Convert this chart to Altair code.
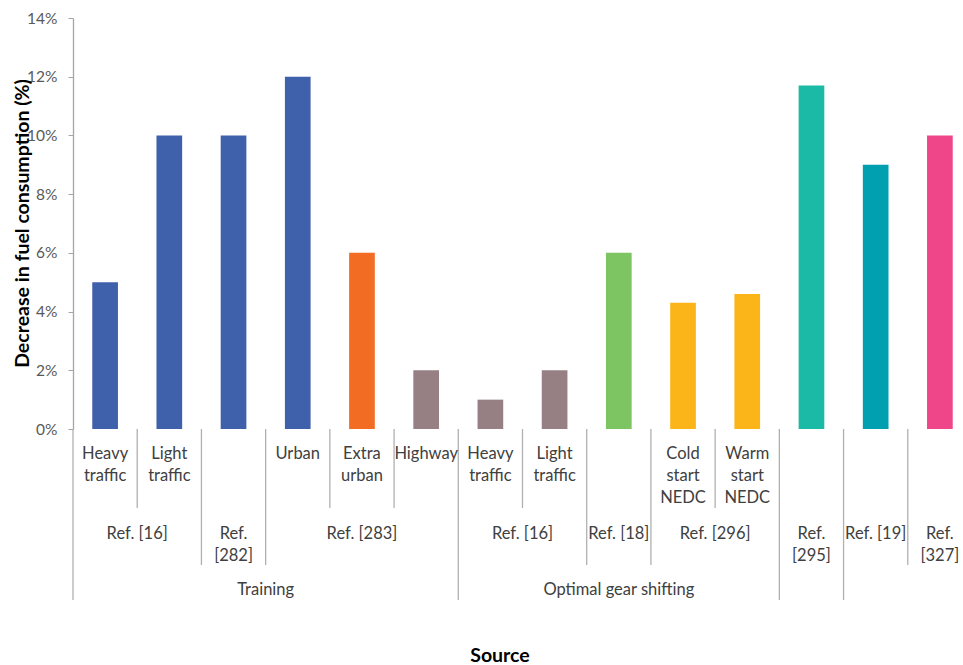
import altair as alt
import pandas as pd

# ---- data ----
values = [0.05, 0.10, 0.10, 0.12, 0.06, 0.02, 0.01, 0.02, 0.06, 0.043, 0.046, 0.117, 0.09, 0.10]
level1_labels = ["Heavy\ntraffic", "Light\ntraffic", "", "Urban", "Extra\nurban", "Highway",
                 "Heavy\ntraffic", "Light\ntraffic", "", "Cold\nstart\nNEDC", "Warm\nstart\nNEDC",
                 "", "", ""]
ref_labels = ["Ref. [16]", "Ref.\n[282]", "Ref. [283]", "Ref. [16]", "Ref. [18]", "Ref. [296]",
              "Ref.\n[295]", "Ref. [19]", "Ref.\n[327]"]
ref_spans = [2, 1, 3, 2, 1, 2, 1, 1, 1]
strategy_labels = ["Training", "Optimal gear shifting", "", ""]
strategy_spans = [6, 5, 1, 2]
y_ticks = [0, 0.02, 0.04, 0.06, 0.08, 0.10, 0.12, 0.14]
x_title = "Source"
y_title = "Decrease in fuel consumption (%)"

# style
palette = ["#3F60AA", "#3F60AA", "#3F60AA", "#3F60AA", "#F36C23", "#968083", "#968083",
           "#968083", "#7DC462", "#FCB518", "#FCB518", "#1ABAA6", "#00A0B1", "#EE4689"]
FONT = "Lato"
n = len(values)
xmax = 13.86

bars_df = pd.DataFrame({"idx": list(range(n)), "value": values, "color": palette})
l1_df = pd.DataFrame({"c": [i + 0.5 for i in range(n)], "label": level1_labels})


def groups(labels, spans):
    rows, start = [], 0
    for lab, sp in zip(labels, spans):
        rows.append({"c": start + sp / 2, "label": lab, "start": start})
        start += sp
    return rows


l2_rows = groups(ref_labels, ref_spans)
l3_rows = groups(strategy_labels, strategy_spans)
l2_df = pd.DataFrame(l2_rows)
l3_df = pd.DataFrame([r for r in l3_rows if r["label"] != ""])

l2_starts = {r["start"] for r in l2_rows}
l3_starts = {r["start"] for r in l3_rows}
sep_rows = []
for b in range(n):
    if b in l3_starts:
        lvl = 3
    elif b in l2_starts:
        lvl = 2
    else:
        lvl = 1
    sep_rows.append({"pos": b, "lvl": lvl})
sep_df = pd.DataFrame(sep_rows)
sep_end = {1: 490, 2: 547, 3: 582}

xscale = alt.Scale(domain=[0, xmax], nice=False, zero=False)
yscale = alt.Scale(domain=[0, 0.14], nice=False)

bars = alt.Chart(bars_df).transform_calculate(
    x0="datum.idx + 0.3", x1="datum.idx + 0.7"
).mark_bar().encode(
    x=alt.X("x0:Q", scale=xscale,
            axis=alt.Axis(labels=False, ticks=False, grid=False, domain=True,
                          domainColor="#A6A6A6", domainWidth=1.3, title=None)),
    x2="x1:Q",
    y=alt.Y("value:Q", scale=yscale,
            axis=alt.Axis(format=".0%", values=y_ticks, grid=False, tickSize=5,
                          tickColor="#A6A6A6", domainColor="#A6A6A6", domainWidth=1.3,
                          labelFont=FONT, labelFontSize=15.5, labelColor="#595959",
                          labelPadding=11,
                          title=y_title, titleFont=FONT,
                          titleFontSize=19.5, titleFontWeight="bold", titleColor="#000000",
                          titleX=-51, titleY=205, titleBaseline="middle",
                          titleAlign="center", titleAngle=-90)),
    y2=alt.datum(0),
    color=alt.Color("color:N", scale=None),
)

seps_list = []
for lvl in (1, 2, 3):
    sub = sep_df[sep_df["lvl"] == lvl]
    seps_list.append(
        alt.Chart(sub).mark_rule(color="#B0B0B0", strokeWidth=1.3).encode(
            x=alt.X("pos:Q", scale=xscale, axis=None),
            y=alt.value(411),
            y2=alt.value(sep_end[lvl]),
        )
    )


def text_layer(df, ytop):
    return alt.Chart(df).mark_text(
        font=FONT, fontSize=16.5, color="#404040", baseline="top", align="center",
        lineBreak="\n", lineHeight=22
    ).encode(
        x=alt.X("c:Q", scale=xscale, axis=None),
        y=alt.value(ytop),
        text="label:N",
    )


t1 = text_layer(l1_df, 428)
t2 = text_layer(l2_df, 508)
t3 = text_layer(l3_df, 564)

src = alt.Chart(pd.DataFrame({"t": [x_title]})).mark_text(
    font=FONT, fontSize=19.5, fontWeight="bold", color="#000000",
    baseline="middle", align="center"
).encode(x=alt.value(427), y=alt.value(638), text="t:N")

chart = alt.layer(bars, *seps_list, t1, t2, t3, src).properties(
    width=890, height=411,
    padding={"left": 73, "top": 18, "right": 0, "bottom": 236},
    autosize=alt.AutoSizeParams(type="none"),
).configure_view(stroke=None)

chart.save("out.html", embed_options={"renderer": "svg", "actions": False})
